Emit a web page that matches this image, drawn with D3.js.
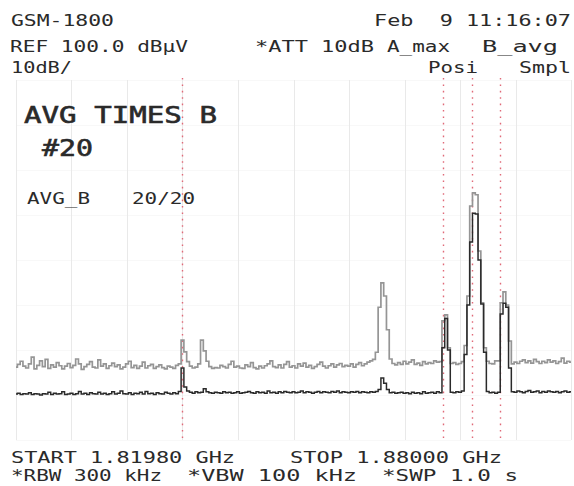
<!DOCTYPE html>
<html>
<head>
<meta charset="utf-8">
<script src="https://cdn.jsdelivr.net/npm/d3@7"></script>
<style>
  html, body { margin: 0; padding: 0; background: #ffffff; }
  svg { display: block; }
  text { font-family: "DejaVu Sans Mono", "Liberation Mono", monospace; fill: #2a2a2a; }
</style>
</head>
<body>
<svg id="chart" width="574" height="486"></svg>
<script>
// Sweep settings (MHz) and display reference
const startMHz = 1819.8;
const stopMHz = 1880.0;
const refLevel = 100;      // dBµV, top of screen
const dbPerDiv = 10;
const vDivs = 8;
const hDivs = 10;

// Trace A (max hold, positive peak), dBµV per sweep point
const traceA = [
  36.2, 36.8, 37.5, 36.4, 36.0, 36.9, 38.4, 35.8, 36.6, 37.6,
  36.3, 37.9, 35.9, 36.7, 36.2, 37.2, 36.5, 35.8, 36.4, 37.0,
  36.1, 36.6, 38.0, 36.9, 35.7, 36.3, 36.8, 37.4, 36.2, 36.0,
  37.8, 36.4, 36.9, 35.9, 36.5, 37.1, 36.3, 36.7, 35.8, 36.2,
  36.9, 37.5, 36.1, 36.6, 35.9, 36.4, 37.3, 36.0, 36.5, 36.8,
  35.9, 36.3, 36.7, 36.1, 35.8, 36.4, 36.2, 35.9, 36.6, 36.9,
  42.2, 39.6, 37.4, 36.4, 36.0, 36.2, 36.9, 42.2, 39.8, 37.5,
  36.3, 35.9, 36.1, 36.0, 36.6, 36.3, 36.0, 36.8, 37.5, 36.2,
  36.4, 36.0, 35.9, 36.7, 36.3, 37.2, 36.1, 35.8, 36.4, 36.0,
  36.5, 36.9, 37.6, 36.3, 36.1, 36.7, 36.0, 36.8, 37.4, 36.2,
  36.5, 36.0, 36.9, 36.4, 37.1, 36.2, 36.6, 35.9, 36.3, 36.8,
  37.3, 36.4, 36.0, 36.5, 36.9, 36.2, 36.7, 37.0, 36.3, 36.6,
  36.4, 36.9, 36.2, 36.8, 37.2, 36.5, 36.9, 37.3, 37.6, 37.9,
  39.5, 49.5, 54.9, 52.0, 44.5, 38.0, 37.0, 36.7, 37.2, 36.8,
  37.5, 36.9, 37.3, 37.8, 36.8, 37.1, 36.6, 37.4, 36.9, 37.2,
  37.0, 37.6, 37.3, 37.4, 46.5, 47.8, 40.5, 37.0, 37.2, 36.8,
  37.0, 37.4, 41.0, 52.0, 72.0, 74.9, 74.5, 62.0, 50.5, 40.5,
  37.5, 37.0, 36.9, 37.6, 37.6, 50.5, 52.9, 50.0, 42.0, 36.9,
  37.3, 37.0, 37.5, 37.8, 37.2, 37.6, 37.1, 37.9, 37.4, 37.0,
  37.5, 37.2, 37.8, 37.3, 37.6, 37.0, 37.4, 38.2, 37.1, 37.5,
  37.3
];

// Trace B (average of 20 sweeps, sample detector), dBµV per sweep point
const traceB = [
  30.2, 30.4, 30.1, 30.3, 30.2, 30.5, 30.1, 30.3, 30.2, 30.0,
  30.3, 30.2, 30.6, 30.1, 30.4, 30.2, 30.3, 30.7, 30.1, 30.2,
  30.4, 30.1, 30.3, 30.8, 30.2, 30.4, 30.1, 30.5, 30.3, 30.2,
  30.6, 30.2, 30.4, 30.1, 30.3, 30.7, 30.2, 30.4, 30.9, 30.3,
  30.2, 30.5, 30.1, 30.4, 30.3, 30.6, 30.2, 30.8, 30.3, 30.4,
  30.1, 30.5, 30.3, 30.2, 30.6, 30.4, 30.2, 30.5, 30.3, 30.8,
  36.0, 31.8, 30.9, 30.6, 30.4, 30.7, 30.5, 30.6, 31.4, 30.7,
  30.5, 30.4, 30.6, 30.5, 30.4, 30.7, 30.5, 30.6, 30.4, 30.5,
  30.7, 30.4, 30.5, 30.6, 30.8, 30.5, 30.4, 30.7, 30.5, 30.6,
  30.4, 30.9, 30.5, 30.6, 30.4, 30.7, 30.5, 30.8, 30.6, 30.5,
  30.7, 30.5, 30.6, 30.9, 30.5, 30.7, 30.6, 30.4, 30.6, 30.8,
  30.5, 30.7, 30.6, 30.5, 30.8, 30.6, 30.9, 30.5, 30.7, 30.6,
  30.5, 30.7, 30.6, 30.8, 30.5, 30.7, 30.6, 30.5, 30.7, 30.6,
  30.8, 31.2, 33.8, 32.6, 31.2, 30.5, 30.6, 30.4, 30.5, 30.6,
  30.4, 30.5, 30.3, 30.6, 30.4, 30.5, 30.3, 30.7, 30.4, 30.5,
  30.6, 30.4, 30.7, 30.5, 40.5, 47.0, 40.0, 30.6, 30.5, 30.7,
  30.6, 30.9, 39.0, 50.0, 64.0, 70.4, 70.2, 60.0, 50.2, 39.5,
  30.8, 30.5, 30.6, 30.4, 30.6, 48.0, 50.4, 49.5, 36.0, 30.7,
  30.6, 30.9, 30.7, 30.5, 30.8, 31.0, 30.6, 30.7, 30.9, 30.5,
  30.8, 30.6, 30.9, 30.7, 30.6, 30.8, 30.5, 30.7, 30.9, 30.6,
  30.7
];

// Marker frequencies (MHz)
const markers = [1837.8, 1866.1, 1869.3, 1872.3];

// Screen annotations
const headerLeft = ["GSM-1800", "REF 100.0 dBµV", "10dB/"];
const headerRight = ["Feb  9 11:16:07", "*ATT 10dB", "A_max", "B_avg", "Posi", "Smpl"];
const avgLabels = ["AVG TIMES B", "#20", "AVG_B", "20/20"];
const footer = ["START 1.81980 GHz", "STOP 1.88000 GHz", "*RBW 300 kHz", "*VBW 100 kHz", "*SWP 1.0 s"];

const svg = d3.select("#chart");
const plot = { left: 16, right: 571, top: 80, bottom: 440 };

const x = d3.scaleLinear().domain([startMHz, stopMHz]).range([plot.left, plot.right]);
const y = d3.scaleLinear().domain([refLevel - vDivs * dbPerDiv, refLevel]).range([plot.bottom, plot.top]);

// Graticule
const xGrid = d3.range(hDivs + 1).map(i => startMHz + i * (stopMHz - startMHz) / hDivs);
const yGrid = d3.range(vDivs + 1).map(i => refLevel - i * dbPerDiv);

const grid = svg.append("g");
grid.selectAll("line.h").data(yGrid).join("line")
  .attr("x1", plot.left).attr("x2", plot.right)
  .attr("y1", d => y(d) + 0.5).attr("y2", d => y(d) + 0.5)
  .attr("stroke", "#f8f8f8").attr("stroke-width", 1);
grid.selectAll("line.v").data(xGrid).join("line")
  .attr("x1", d => Math.round(x(d)) + 0.5).attr("x2", d => Math.round(x(d)) + 0.5)
  .attr("y1", plot.top).attr("y2", plot.bottom)
  .attr("stroke", "#e9e9e9").attr("stroke-width", 1);

// Marker lines
svg.append("g").selectAll("line").data(markers).join("line")
  .attr("x1", d => Math.round(x(d)) + 0.5).attr("x2", d => Math.round(x(d)) + 0.5)
  .attr("y1", plot.top - 2).attr("y2", plot.bottom)
  .attr("stroke", "#e06a78").attr("stroke-width", 1.4)
  .attr("stroke-dasharray", "1.6,4.8");

// Traces, drawn as held sweep points
function tracePath(values) {
  const n = values.length;
  const f = i => startMHz + i * (stopMHz - startMHz) / (n - 1);
  return d3.line()
    .x((d, i) => x(f(i)))
    .y(d => y(d))
    .curve(d3.curveStep)(values);
}

svg.append("path").attr("d", tracePath(traceA))
  .attr("fill", "none").attr("stroke", "#959595").attr("stroke-width", 1.7);
svg.append("path").attr("d", tracePath(traceB))
  .attr("fill", "none").attr("stroke", "#2a2a2a").attr("stroke-width", 1.5);

// Text helper: fixed start position and width
function label(txt, px, py, width, size, strokeW) {
  const t = svg.append("text")
    .attr("x", px).attr("y", py)
    .attr("font-size", size)
    .attr("textLength", width)
    .attr("lengthAdjust", "spacingAndGlyphs")
    .attr("xml:space", "preserve")
    .text(txt);
  if (strokeW) t.attr("stroke", "#2a2a2a").attr("stroke-width", strokeW);
}

label(headerLeft[0], 11, 26, 103, 15);
label(headerRight[0], 374, 26, 197, 15);
label(headerLeft[1], 10, 52, 178, 15);
label(headerRight[1], 255, 52, 119, 15);
label(headerRight[2], 387, 52, 63, 15);
label(headerRight[3], 482, 52, 76, 15);
label(headerLeft[2], 11, 73, 61, 15);
label(headerRight[4], 428, 73, 50, 15);
label(headerRight[5], 519, 73, 52, 15);

label(avgLabels[0], 24, 123, 193, 23, 0.6);
label(avgLabels[1], 42, 156, 51, 23, 0.6);
label(avgLabels[2], 27, 204, 63, 15);
label(avgLabels[3], 132, 204, 63, 15);

label(footer[0], 11, 463, 224, 15);
label(footer[1], 290, 463, 212, 15);
label(footer[2], 11, 481, 151, 15);
label(footer[3], 187, 481, 170, 15);
label(footer[4], 382, 481, 136, 15);
</script>
</body>
</html>
